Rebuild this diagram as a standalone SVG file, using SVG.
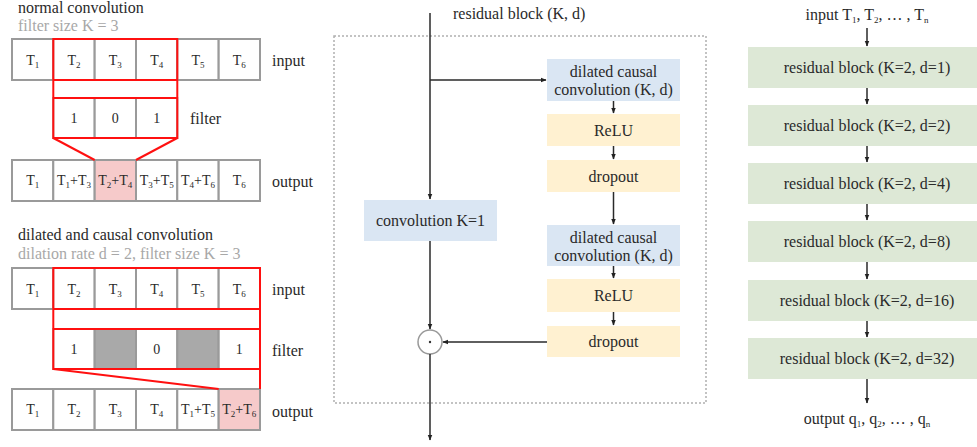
<svg xmlns="http://www.w3.org/2000/svg" width="977" height="447" viewBox="0 0 977 447" font-family="'Liberation Serif', 'Times New Roman', serif">
<defs>
<marker id="ah" viewBox="0 0 10 10" refX="9" refY="5" markerWidth="6" markerHeight="6" orient="auto-start-reverse" markerUnits="userSpaceOnUse">
<path d="M0,1 L10,5 L0,9 z" fill="#222"/>
</marker>
<style>
text{font-family:'Liberation Serif','Times New Roman',serif;fill:#2a2a2a}
.t16{font-size:16px}
.c{font-size:14px;text-anchor:middle}
.mid{text-anchor:middle}
.sub{font-size:9px}
.gray{fill:#a8a8a8}
.cell{fill:#fff;stroke:#9a9a9a;stroke-width:2}
.pink{fill:#f6caca;stroke:#9a9a9a;stroke-width:2}
.dark{fill:#a9a9a9;stroke:#9a9a9a;stroke-width:2}
.red{fill:none;stroke:#ff1010;stroke-width:2}
.blue{fill:#dae6f3}
.yel{fill:#fff1d1}
.grn{fill:#dde8d6}
.arr{stroke:#2a2a2a;stroke-width:1.5;fill:none;marker-end:url(#ah)}
</style>
</defs>

<!-- Normal convolution -->
<g id="normal-conv">
<text class="t16" x="18" y="13">normal convolution</text>
<text class="t16 gray" x="18" y="31">filter size K = 3</text>
<g id="n-input">
<rect class="cell" x="12" y="39" width="41.3" height="41"/>
<rect class="cell" x="53.3" y="39" width="41.3" height="41"/>
<rect class="cell" x="94.7" y="39" width="41.3" height="41"/>
<rect class="cell" x="136" y="39" width="41.3" height="41"/>
<rect class="cell" x="177.3" y="39" width="41.3" height="41"/>
<rect class="cell" x="218.7" y="39" width="41.3" height="41"/>
<text class="c" x="32.7" y="65">T<tspan class="sub" dy="3">1</tspan></text>
<text class="c" x="74" y="65">T<tspan class="sub" dy="3">2</tspan></text>
<text class="c" x="115.3" y="65">T<tspan class="sub" dy="3">3</tspan></text>
<text class="c" x="156.7" y="65">T<tspan class="sub" dy="3">4</tspan></text>
<text class="c" x="198" y="65">T<tspan class="sub" dy="3">5</tspan></text>
<text class="c" x="239.3" y="65">T<tspan class="sub" dy="3">6</tspan></text>
<text class="t16" x="272" y="66">input</text>
</g>
<g id="n-filter">
<rect class="cell" x="53.3" y="98" width="41.3" height="40"/>
<rect class="cell" x="94.7" y="98" width="41.3" height="40"/>
<rect class="cell" x="136" y="98" width="41.3" height="40"/>
<text class="c" x="74" y="123">1</text>
<text class="c" x="115.3" y="123">0</text>
<text class="c" x="156.7" y="123">1</text>
<text class="t16" x="190" y="124">filter</text>
</g>
<g id="n-output">
<rect class="cell" x="12" y="160" width="41.3" height="41"/>
<rect class="cell" x="53.3" y="160" width="41.3" height="41"/>
<rect class="pink" x="94.7" y="160" width="41.3" height="41"/>
<rect class="cell" x="136" y="160" width="41.3" height="41"/>
<rect class="cell" x="177.3" y="160" width="41.3" height="41"/>
<rect class="cell" x="218.7" y="160" width="41.3" height="41"/>
<text class="c" x="32.7" y="185">T<tspan class="sub" dy="3">1</tspan></text>
<text class="c" x="74" y="185">T<tspan class="sub" dy="3">1</tspan><tspan dy="-3">+T</tspan><tspan class="sub" dy="3">3</tspan></text>
<text class="c" x="115.3" y="185">T<tspan class="sub" dy="3">2</tspan><tspan dy="-3">+T</tspan><tspan class="sub" dy="3">4</tspan></text>
<text class="c" x="156.7" y="185">T<tspan class="sub" dy="3">3</tspan><tspan dy="-3">+T</tspan><tspan class="sub" dy="3">5</tspan></text>
<text class="c" x="198" y="185">T<tspan class="sub" dy="3">4</tspan><tspan dy="-3">+T</tspan><tspan class="sub" dy="3">6</tspan></text>
<text class="c" x="239.3" y="185">T<tspan class="sub" dy="3">6</tspan></text>
<text class="t16" x="272" y="187">output</text>
</g>
<g id="n-red">
<rect class="red" x="53.3" y="39" width="124" height="99"/>
<line class="red" x1="53.3" y1="80" x2="177.3" y2="80"/>
<line class="red" x1="53.3" y1="98" x2="177.3" y2="98"/>
<polyline class="red" points="53.3,138 94.7,160"/>
<polyline class="red" points="177.3,138 136,160"/>
</g>
</g>

<!-- Dilated causal convolution -->
<g id="dilated-conv">
<text class="t16" x="18" y="240">dilated and causal convolution</text>
<text class="t16 gray" x="18" y="259">dilation rate d = 2, filter size K = 3</text>
<g id="d-input">
<rect class="cell" x="12" y="268" width="41.3" height="41"/>
<rect class="cell" x="53.3" y="268" width="41.3" height="41"/>
<rect class="cell" x="94.7" y="268" width="41.3" height="41"/>
<rect class="cell" x="136" y="268" width="41.3" height="41"/>
<rect class="cell" x="177.3" y="268" width="41.3" height="41"/>
<rect class="cell" x="218.7" y="268" width="41.3" height="41"/>
<text class="c" x="32.7" y="294">T<tspan class="sub" dy="3">1</tspan></text>
<text class="c" x="74" y="294">T<tspan class="sub" dy="3">2</tspan></text>
<text class="c" x="115.3" y="294">T<tspan class="sub" dy="3">3</tspan></text>
<text class="c" x="156.7" y="294">T<tspan class="sub" dy="3">4</tspan></text>
<text class="c" x="198" y="294">T<tspan class="sub" dy="3">5</tspan></text>
<text class="c" x="239.3" y="294">T<tspan class="sub" dy="3">6</tspan></text>
<text class="t16" x="272" y="295">input</text>
</g>
<g id="d-filter">
<rect class="cell" x="53.3" y="329" width="41.3" height="40"/>
<rect class="dark" x="94.7" y="329" width="41.3" height="40"/>
<rect class="cell" x="136" y="329" width="41.3" height="40"/>
<rect class="dark" x="177.3" y="329" width="41.3" height="40"/>
<rect class="cell" x="218.7" y="329" width="41.3" height="40"/>
<text class="c" x="74" y="354">1</text>
<text class="c" x="156.7" y="354">0</text>
<text class="c" x="239.3" y="354">1</text>
<text class="t16" x="272" y="356">filter</text>
</g>
<g id="d-output">
<rect class="cell" x="12" y="389" width="41.3" height="41"/>
<rect class="cell" x="53.3" y="389" width="41.3" height="41"/>
<rect class="cell" x="94.7" y="389" width="41.3" height="41"/>
<rect class="cell" x="136" y="389" width="41.3" height="41"/>
<rect class="cell" x="177.3" y="389" width="41.3" height="41"/>
<rect class="pink" x="218.7" y="389" width="41.3" height="41"/>
<text class="c" x="32.7" y="414">T<tspan class="sub" dy="3">1</tspan></text>
<text class="c" x="74" y="414">T<tspan class="sub" dy="3">2</tspan></text>
<text class="c" x="115.3" y="414">T<tspan class="sub" dy="3">3</tspan></text>
<text class="c" x="156.7" y="414">T<tspan class="sub" dy="3">4</tspan></text>
<text class="c" x="198" y="414">T<tspan class="sub" dy="3">1</tspan><tspan dy="-3">+T</tspan><tspan class="sub" dy="3">5</tspan></text>
<text class="c" x="239.3" y="414">T<tspan class="sub" dy="3">2</tspan><tspan dy="-3">+T</tspan><tspan class="sub" dy="3">6</tspan></text>
<text class="t16" x="272" y="417">output</text>
</g>
<g id="d-red">
<rect class="red" x="53.3" y="268" width="206.7" height="101"/>
<line class="red" x1="53.3" y1="309" x2="260" y2="309"/>
<line class="red" x1="53.3" y1="329" x2="260" y2="329"/>
<polyline class="red" points="53.3,369 218.7,389"/>
<polyline class="red" points="260,369 260,389"/>
</g>
</g>

<!-- Residual block -->
<g id="residual-block">
<text class="t16" x="453" y="19">residual block (K, d)</text>
<rect x="334" y="36" width="372" height="367" fill="none" stroke="#b0b0b0" stroke-width="1.5" stroke-dasharray="2 2"/>
</g>
<g id="dcc1"><rect class="blue" x="547" y="59" width="133" height="42"/>
<text class="t16 mid" x="613.5" y="77">dilated causal</text>
<text class="t16 mid" x="613.5" y="95">convolution (K, d)</text></g>
<g id="relu1"><rect class="yel" x="547" y="114" width="133" height="32"/>
<text class="t16 mid" x="613.5" y="136">ReLU</text></g>
<g id="drop1"><rect class="yel" x="547" y="160" width="133" height="32"/>
<text class="t16 mid" x="613.5" y="182">dropout</text></g>
<g id="dcc2"><rect class="blue" x="547" y="225" width="133" height="41"/>
<text class="t16 mid" x="613.5" y="243">dilated causal</text>
<text class="t16 mid" x="613.5" y="261">convolution (K, d)</text></g>
<g id="relu2"><rect class="yel" x="547" y="279" width="133" height="33"/>
<text class="t16 mid" x="613.5" y="301">ReLU</text></g>
<g id="drop2"><rect class="yel" x="547" y="326" width="133" height="31"/>
<text class="t16 mid" x="613.5" y="347">dropout</text></g>
<g id="conv1"><rect class="blue" x="364" y="200" width="133" height="41"/>
<text class="t16 mid" x="430.5" y="226">convolution K=1</text></g>
<g id="sum"><circle cx="430" cy="342" r="12" fill="#fff" stroke="#999" stroke-width="1.5"/>
<circle cx="430" cy="342" r="1.2" fill="#333"/></g>

<!-- TCN stack -->
<g id="tcn-input"><text class="t16 mid" x="867" y="20">input T<tspan class="sub" dy="3">1</tspan><tspan dy="-3">, T</tspan><tspan class="sub" dy="3">2</tspan><tspan dy="-3">, … , T</tspan><tspan class="sub" dy="3">n</tspan></text></g>
<g id="rb1"><rect class="grn" x="748" y="47" width="238" height="41"/><text class="t16 mid" x="867" y="73">residual block (K=2, d=1)</text></g>
<g id="rb2"><rect class="grn" x="748" y="105" width="238" height="41"/><text class="t16 mid" x="867" y="131">residual block (K=2, d=2)</text></g>
<g id="rb3"><rect class="grn" x="748" y="163" width="238" height="41"/><text class="t16 mid" x="867" y="189">residual block (K=2, d=4)</text></g>
<g id="rb4"><rect class="grn" x="748" y="221" width="238" height="41"/><text class="t16 mid" x="867" y="247">residual block (K=2, d=8)</text></g>
<g id="rb5"><rect class="grn" x="748" y="280" width="238" height="41"/><text class="t16 mid" x="867" y="306">residual block (K=2, d=16)</text></g>
<g id="rb6"><rect class="grn" x="748" y="338" width="238" height="41"/><text class="t16 mid" x="867" y="364">residual block (K=2, d=32)</text></g>
<g id="tcn-output"><text class="t16 mid" x="867" y="424">output q<tspan class="sub" dy="3">1</tspan><tspan dy="-3">, q</tspan><tspan class="sub" dy="3">2</tspan><tspan dy="-3">, … , q</tspan><tspan class="sub" dy="3">n</tspan></text></g>

<g id="connectors">
<line class="arr" x1="430" y1="13" x2="430" y2="199"/>
<line class="arr" x1="430" y1="80" x2="546" y2="80"/>
<line class="arr" x1="613.5" y1="101" x2="613.5" y2="113"/>
<line class="arr" x1="613.5" y1="146" x2="613.5" y2="159"/>
<line class="arr" x1="613.5" y1="192" x2="613.5" y2="224"/>
<line class="arr" x1="613.5" y1="266" x2="613.5" y2="278"/>
<line class="arr" x1="613.5" y1="312" x2="613.5" y2="325"/>
<line class="arr" x1="430" y1="241" x2="430" y2="329"/>
<line class="arr" x1="547" y1="342" x2="443" y2="342"/>
<line class="arr" x1="430" y1="354" x2="430" y2="440"/>
<line class="arr" x1="867" y1="28" x2="867" y2="46"/>
<line class="arr" x1="867" y1="88" x2="867" y2="104"/>
<line class="arr" x1="867" y1="146" x2="867" y2="162"/>
<line class="arr" x1="867" y1="204" x2="867" y2="220"/>
<line class="arr" x1="867" y1="262" x2="867" y2="279"/>
<line class="arr" x1="867" y1="321" x2="867" y2="337"/>
<line class="arr" x1="867" y1="379" x2="867" y2="403"/>
</g>
</svg>
